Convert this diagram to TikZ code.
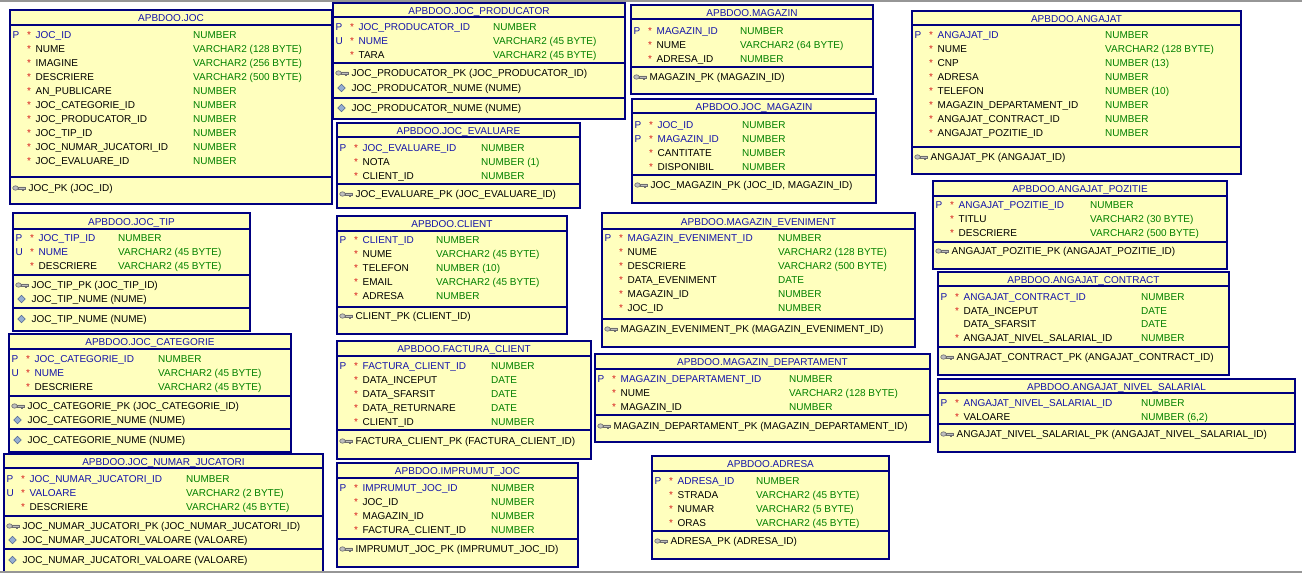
\documentclass[tikz,border=0pt]{standalone}
\usepackage{fontspec}
\setmainfont{Liberation Sans}
\usetikzlibrary{fit}
\definecolor{boxedge}{RGB}{0,0,128}
\definecolor{boxfill}{RGB}{255,255,190}
\definecolor{hdrblue}{RGB}{20,20,170}
\definecolor{typgreen}{RGB}{0,128,0}
\definecolor{starred}{RGB}{215,30,30}
\definecolor{keydark}{RGB}{110,110,110}
\definecolor{keylight}{RGB}{190,190,190}
\definecolor{diafill}{RGB}{150,175,210}
\definecolor{diaedge}{RGB}{85,105,145}
\definecolor{framegray}{RGB}{150,150,150}
\newcounter{nd}
\tikzset{
  tblbox/.style={draw=boxedge, fill=boxfill, line width=1.2pt, inner sep=0pt},
  sepline/.style={draw=boxedge, line width=1.1pt},
  txt/.style={inner sep=0pt, anchor=west, text height=7pt, text depth=0pt, font=\fontsize{10}{12}\selectfont, text=black},
  hdr/.style={txt, anchor=center, text=hdrblue},
  pkname/.style={txt, text=hdrblue},
  colname/.style={txt},
  pl/.style={txt, text=hdrblue},
  star/.style={txt, text=starred},
  typ/.style={txt, text=typgreen},
  frame/.style={draw=framegray, line width=2pt}
}
% table: id, left, top, right, bottom, header line, title, type column x
\newcommand\tbl[8]{%
  \node[tblbox, fit={(#2,#3) (#4,#5)}] (#1) {};
  \draw[sepline] (#2,#6) -- (#4,#6);
  \node[hdr] (#1-t) at ({(#2+#4)/2},{(#3+#6)/2+0.5}) {APBDOO.#7};
  \def\L{#2}\def\R{#4}\def\TX{#8}\def\TID{#1}}
% column row: y, letter, star, name style, name, type
\newcommand\crow[6]{%
  \stepcounter{nd}%
  \if\relax\detokenize{#2}\relax\else\node[pl] (\TID-\arabic{nd}l) at (\L+2.5,#1) {#2};\fi
  \ifnum#3=1 \node[star] (\TID-\arabic{nd}s) at (\L+17,#1) {*};\fi
  \node[#4] (\TID-\arabic{nd}n) at (\L+25.5,#1) {#5};
  \node[typ] (\TID-\arabic{nd}t) at (\TX,#1) {#6};}
\newcommand\sepat[1]{\draw[sepline] (\L,#1) -- (\R,#1);}
\newcommand\keyrow[2]{%
  \stepcounter{nd}%
  \filldraw[fill=keylight, draw=keydark, line width=0.6pt] (\L+5.5,#1) ellipse [x radius=2.8pt, y radius=2.2pt];
  \filldraw[fill=keylight, draw=keydark, line width=0.6pt] (\L+8.3,#1-1.2) -- (\L+15,#1-1.2) -- (\L+15,#1+1.2) -- (\L+13.5,#1+1.2) -- (\L+13.5,#1+2.6) -- (\L+12,#1+2.6) -- (\L+12,#1+1.2) -- (\L+8.3,#1+1.2) -- cycle;
  \node[txt] (\TID-\arabic{nd}k) at (\L+18.5,#1) {#2};}
\newcommand\diarow[2]{%
  \stepcounter{nd}%
  \filldraw[fill=diafill, draw=diaedge, line width=0.5pt] (\L+8.5,#1-3.8) -- (\L+12.3,#1) -- (\L+8.5,#1+3.8) -- (\L+4.7,#1) -- cycle;
  \node[txt] (\TID-\arabic{nd}d) at (\L+18.5,#1) {#2};}
\begin{document}
\begin{tikzpicture}[x=1pt, y=-1pt]
\useasboundingbox (0,0) rectangle (1302,573);
\fill[white] (0,0) rectangle (1302,573);
\begin{scope}
\clip (0,0) rectangle (1302,573);
% JOC
\tbl{joc}{10}{10}{332}{204}{25}{JOC}{193}
\crow{35}{P}{1}{pkname}{JOC\_ID}{NUMBER}
\crow{49}{}{1}{colname}{NUME}{VARCHAR2 (128 BYTE)}
\crow{63}{}{1}{colname}{IMAGINE}{VARCHAR2 (256 BYTE)}
\crow{77}{}{1}{colname}{DESCRIERE}{VARCHAR2 (500 BYTE)}
\crow{91}{}{1}{colname}{AN\_PUBLICARE}{NUMBER}
\crow{105}{}{1}{colname}{JOC\_CATEGORIE\_ID}{NUMBER}
\crow{119}{}{1}{colname}{JOC\_PRODUCATOR\_ID}{NUMBER}
\crow{133}{}{1}{colname}{JOC\_TIP\_ID}{NUMBER}
\crow{147}{}{1}{colname}{JOC\_NUMAR\_JUCATORI\_ID}{NUMBER}
\crow{161}{}{1}{colname}{JOC\_EVALUARE\_ID}{NUMBER}
\sepat{177}
\keyrow{188}{JOC\_PK (JOC\_ID)}
% JOC_PRODUCATOR
\tbl{prod}{333}{3}{625}{119}{17}{JOC\_PRODUCATOR}{493}
\crow{27}{P}{1}{pkname}{JOC\_PRODUCATOR\_ID}{NUMBER}
\crow{41}{U}{1}{pkname}{NUME}{VARCHAR2 (45 BYTE)}
\crow{55}{}{1}{colname}{TARA}{VARCHAR2 (45 BYTE)}
\sepat{63}
\keyrow{73}{JOC\_PRODUCATOR\_PK (JOC\_PRODUCATOR\_ID)}
\diarow{88}{JOC\_PRODUCATOR\_NUME (NUME)}
\sepat{98}
\diarow{108}{JOC\_PRODUCATOR\_NUME (NUME)}
% JOC_EVALUARE
\tbl{eval}{337}{123}{580}{208}{137}{JOC\_EVALUARE}{481}
\crow{148}{P}{1}{pkname}{JOC\_EVALUARE\_ID}{NUMBER}
\crow{162}{}{1}{colname}{NOTA}{NUMBER (1)}
\crow{176}{}{1}{colname}{CLIENT\_ID}{NUMBER}
\sepat{184}
\keyrow{194}{JOC\_EVALUARE\_PK (JOC\_EVALUARE\_ID)}
% MAGAZIN
\tbl{mag}{631}{5}{873}{94}{19}{MAGAZIN}{740}
\crow{31}{P}{1}{pkname}{MAGAZIN\_ID}{NUMBER}
\crow{45}{}{1}{colname}{NUME}{VARCHAR2 (64 BYTE)}
\crow{59}{}{1}{colname}{ADRESA\_ID}{NUMBER}
\sepat{67}
\keyrow{77}{MAGAZIN\_PK (MAGAZIN\_ID)}
% JOC_MAGAZIN
\tbl{jocmag}{632}{99}{876}{203}{113}{JOC\_MAGAZIN}{742}
\crow{125}{P}{1}{pkname}{JOC\_ID}{NUMBER}
\crow{139}{P}{1}{pkname}{MAGAZIN\_ID}{NUMBER}
\crow{153}{}{1}{colname}{CANTITATE}{NUMBER}
\crow{167}{}{1}{colname}{DISPONIBIL}{NUMBER}
\sepat{175}
\keyrow{185}{JOC\_MAGAZIN\_PK (JOC\_ID, MAGAZIN\_ID)}
% ANGAJAT
\tbl{ang}{912}{11}{1241}{174}{25}{ANGAJAT}{1105}
\crow{35}{P}{1}{pkname}{ANGAJAT\_ID}{NUMBER}
\crow{49}{}{1}{colname}{NUME}{VARCHAR2 (128 BYTE)}
\crow{63}{}{1}{colname}{CNP}{NUMBER (13)}
\crow{77}{}{1}{colname}{ADRESA}{NUMBER}
\crow{91}{}{1}{colname}{TELEFON}{NUMBER (10)}
\crow{105}{}{1}{colname}{MAGAZIN\_DEPARTAMENT\_ID}{NUMBER}
\crow{119}{}{1}{colname}{ANGAJAT\_CONTRACT\_ID}{NUMBER}
\crow{133}{}{1}{colname}{ANGAJAT\_POZITIE\_ID}{NUMBER}
\sepat{147}
\keyrow{157}{ANGAJAT\_PK (ANGAJAT\_ID)}
% ANGAJAT_POZITIE
\tbl{poz}{933}{181}{1227}{269}{196}{ANGAJAT\_POZITIE}{1090}
\crow{205}{P}{1}{pkname}{ANGAJAT\_POZITIE\_ID}{NUMBER}
\crow{219}{}{1}{colname}{TITLU}{VARCHAR2 (30 BYTE)}
\crow{233}{}{1}{colname}{DESCRIERE}{VARCHAR2 (500 BYTE)}
\sepat{242}
\keyrow{251}{ANGAJAT\_POZITIE\_PK (ANGAJAT\_POZITIE\_ID)}
% ANGAJAT_CONTRACT
\tbl{contr}{938}{272}{1229}{375}{286}{ANGAJAT\_CONTRACT}{1141}
\crow{297}{P}{1}{pkname}{ANGAJAT\_CONTRACT\_ID}{NUMBER}
\crow{311}{}{1}{colname}{DATA\_INCEPUT}{DATE}
\crow{324}{}{0}{colname}{DATA\_SFARSIT}{DATE}
\crow{338}{}{1}{colname}{ANGAJAT\_NIVEL\_SALARIAL\_ID}{NUMBER}
\sepat{347}
\keyrow{357}{ANGAJAT\_CONTRACT\_PK (ANGAJAT\_CONTRACT\_ID)}
% ANGAJAT_NIVEL_SALARIAL
\tbl{niv}{938}{379}{1295}{452}{393}{ANGAJAT\_NIVEL\_SALARIAL}{1141}
\crow{403}{P}{1}{pkname}{ANGAJAT\_NIVEL\_SALARIAL\_ID}{NUMBER}
\crow{417}{}{1}{colname}{VALOARE}{NUMBER (6,2)}
\sepat{424}
\keyrow{434}{ANGAJAT\_NIVEL\_SALARIAL\_PK (ANGAJAT\_NIVEL\_SALARIAL\_ID)}
% JOC_TIP
\tbl{tip}{13}{213}{250}{331}{229}{JOC\_TIP}{118}
\crow{238}{P}{1}{pkname}{JOC\_TIP\_ID}{NUMBER}
\crow{252}{U}{1}{pkname}{NUME}{VARCHAR2 (45 BYTE)}
\crow{266}{}{1}{colname}{DESCRIERE}{VARCHAR2 (45 BYTE)}
\sepat{275}
\keyrow{285}{JOC\_TIP\_PK (JOC\_TIP\_ID)}
\diarow{299}{JOC\_TIP\_NUME (NUME)}
\sepat{308}
\diarow{319}{JOC\_TIP\_NUME (NUME)}
% JOC_CATEGORIE
\tbl{cat}{9}{334}{291}{452}{349}{JOC\_CATEGORIE}{158}
\crow{359}{P}{1}{pkname}{JOC\_CATEGORIE\_ID}{NUMBER}
\crow{373}{U}{1}{pkname}{NUME}{VARCHAR2 (45 BYTE)}
\crow{387}{}{1}{colname}{DESCRIERE}{VARCHAR2 (45 BYTE)}
\sepat{396}
\keyrow{406}{JOC\_CATEGORIE\_PK (JOC\_CATEGORIE\_ID)}
\diarow{420}{JOC\_CATEGORIE\_NUME (NUME)}
\sepat{429}
\diarow{440}{JOC\_CATEGORIE\_NUME (NUME)}
% JOC_NUMAR_JUCATORI
\tbl{nr}{4}{454}{323}{582}{468}{JOC\_NUMAR\_JUCATORI}{186}
\crow{479}{P}{1}{pkname}{JOC\_NUMAR\_JUCATORI\_ID}{NUMBER}
\crow{493}{U}{1}{pkname}{VALOARE}{VARCHAR2 (2 BYTE)}
\crow{507}{}{1}{colname}{DESCRIERE}{VARCHAR2 (45 BYTE)}
\sepat{516}
\keyrow{526}{JOC\_NUMAR\_JUCATORI\_PK (JOC\_NUMAR\_JUCATORI\_ID)}
\diarow{540}{JOC\_NUMAR\_JUCATORI\_VALOARE (VALOARE)}
\sepat{549}
\diarow{560}{JOC\_NUMAR\_JUCATORI\_VALOARE (VALOARE)}
% CLIENT
\tbl{cli}{337}{216}{567}{334}{231}{CLIENT}{436}
\crow{240}{P}{1}{pkname}{CLIENT\_ID}{NUMBER}
\crow{254}{}{1}{colname}{NUME}{VARCHAR2 (45 BYTE)}
\crow{268}{}{1}{colname}{TELEFON}{NUMBER (10)}
\crow{282}{}{1}{colname}{EMAIL}{VARCHAR2 (45 BYTE)}
\crow{296}{}{1}{colname}{ADRESA}{NUMBER}
\sepat{307}
\keyrow{316}{CLIENT\_PK (CLIENT\_ID)}
% FACTURA_CLIENT
\tbl{fact}{337}{341}{591}{459}{356}{FACTURA\_CLIENT}{491}
\crow{366}{P}{1}{pkname}{FACTURA\_CLIENT\_ID}{NUMBER}
\crow{380}{}{1}{colname}{DATA\_INCEPUT}{DATE}
\crow{394}{}{1}{colname}{DATA\_SFARSIT}{DATE}
\crow{408}{}{1}{colname}{DATA\_RETURNARE}{DATE}
\crow{422}{}{1}{colname}{CLIENT\_ID}{NUMBER}
\sepat{430}
\keyrow{441}{FACTURA\_CLIENT\_PK (FACTURA\_CLIENT\_ID)}
% IMPRUMUT_JOC
\tbl{impr}{337}{463}{578}{567}{478}{IMPRUMUT\_JOC}{491}
\crow{488}{P}{1}{pkname}{IMPRUMUT\_JOC\_ID}{NUMBER}
\crow{502}{}{1}{colname}{JOC\_ID}{NUMBER}
\crow{516}{}{1}{colname}{MAGAZIN\_ID}{NUMBER}
\crow{530}{}{1}{colname}{FACTURA\_CLIENT\_ID}{NUMBER}
\sepat{539}
\keyrow{549}{IMPRUMUT\_JOC\_PK (IMPRUMUT\_JOC\_ID)}
% MAGAZIN_EVENIMENT
\tbl{ev}{602}{213}{915}{347}{229}{MAGAZIN\_EVENIMENT}{778}
\crow{238}{P}{1}{pkname}{MAGAZIN\_EVENIMENT\_ID}{NUMBER}
\crow{252}{}{1}{colname}{NUME}{VARCHAR2 (128 BYTE)}
\crow{266}{}{1}{colname}{DESCRIERE}{VARCHAR2 (500 BYTE)}
\crow{280}{}{1}{colname}{DATA\_EVENIMENT}{DATE}
\crow{294}{}{1}{colname}{MAGAZIN\_ID}{NUMBER}
\crow{308}{}{1}{colname}{JOC\_ID}{NUMBER}
\sepat{319}
\keyrow{329}{MAGAZIN\_EVENIMENT\_PK (MAGAZIN\_EVENIMENT\_ID)}
% MAGAZIN_DEPARTAMENT
\tbl{dep}{595}{354}{930}{442}{369}{MAGAZIN\_DEPARTAMENT}{789}
\crow{379}{P}{1}{pkname}{MAGAZIN\_DEPARTAMENT\_ID}{NUMBER}
\crow{393}{}{1}{colname}{NUME}{VARCHAR2 (128 BYTE)}
\crow{407}{}{1}{colname}{MAGAZIN\_ID}{NUMBER}
\sepat{415}
\keyrow{426}{MAGAZIN\_DEPARTAMENT\_PK (MAGAZIN\_DEPARTAMENT\_ID)}
% ADRESA
\tbl{adr}{652}{456}{889}{559}{471}{ADRESA}{756}
\crow{481}{P}{1}{pkname}{ADRESA\_ID}{NUMBER}
\crow{495}{}{1}{colname}{STRADA}{VARCHAR2 (45 BYTE)}
\crow{509}{}{1}{colname}{NUMAR}{VARCHAR2 (5 BYTE)}
\crow{523}{}{1}{colname}{ORAS}{VARCHAR2 (45 BYTE)}
\sepat{531}
\keyrow{541}{ADRESA\_PK (ADRESA\_ID)}
% frame lines
\draw[frame, line width=1.5pt] (0,0.75) -- (1302,0.75);
\draw[frame] (0,572) -- (1302,572);
\end{scope}
\end{tikzpicture}
\end{document}
